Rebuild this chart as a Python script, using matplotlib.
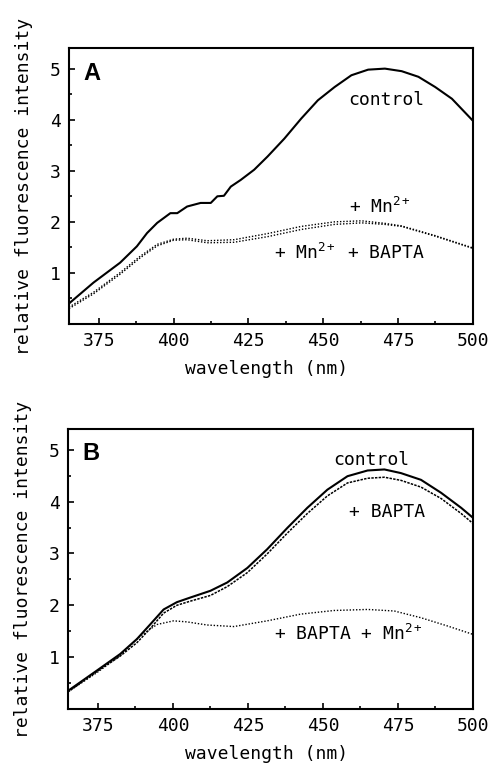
import matplotlib
import matplotlib.pyplot as plt

matplotlib.use('Agg')

plt.rcParams['font.family'] = ['DejaVu Sans Mono']
plt.rcParams['mathtext.fontset'] = 'custom'
plt.rcParams['mathtext.rm'] = 'DejaVu Sans Mono'
plt.rcParams['mathtext.it'] = 'DejaVu Sans Mono'
plt.rcParams['mathtext.bf'] = 'DejaVu Sans Mono:bold'
plt.rcParams['mathtext.default'] = 'rm'

# Panel A data
wl_a_ctrl = [365, 373.2, 382.1, 387.7, 391.1, 394.5, 398.9, 401.2, 404.5, 409, 412.4, 414.6,
             416.8, 419.1, 422.4, 426.9, 431.4, 437, 442.6, 448.2, 453.8, 459.4, 465, 470.6,
             476.2, 481.8, 487.4, 493, 500]
a_ctrl = [0.40, 0.81, 1.20, 1.52, 1.78, 1.98, 2.17, 2.17, 2.30, 2.37, 2.37, 2.50,
          2.51, 2.69, 2.82, 3.02, 3.28, 3.63, 4.02, 4.38, 4.64, 4.87, 4.98, 5.00,
          4.95, 4.84, 4.64, 4.41, 3.98]

wl_a_mn = [365, 373.2, 382, 388.9, 394.5, 400, 404.5, 411.2, 420.2, 431.4, 442.6, 453.8,
           462.8, 470.6, 476.2, 487.4, 500]
a_mn = [0.33, 0.62, 1.00, 1.33, 1.56, 1.66, 1.68, 1.63, 1.65, 1.77, 1.91, 2.00,
        2.02, 1.97, 1.92, 1.73, 1.49]
a_mn_bapta = [0.30, 0.59, 0.97, 1.30, 1.53, 1.64, 1.65, 1.59, 1.60, 1.71, 1.85, 1.95,
              1.98, 1.95, 1.91, 1.72, 1.48]

# Panel B data
wl_b = [365, 374.6, 382.4, 388, 392.4, 396.9, 401.3, 405.8, 412.5, 418.1, 424.8, 431.4,
        438.1, 444.8, 451.5, 458.2, 464.9, 470.5, 476, 482.7, 489.4, 496.1, 500]
b_ctrl = [0.35, 0.74, 1.06, 1.35, 1.63, 1.92, 2.06, 2.15, 2.28, 2.44, 2.72, 3.08,
          3.49, 3.88, 4.23, 4.49, 4.60, 4.62, 4.55, 4.42, 4.17, 3.88, 3.69]
b_bapta = [0.33, 0.72, 1.02, 1.28, 1.55, 1.85, 2.00, 2.08, 2.19, 2.36, 2.63, 2.99,
           3.39, 3.77, 4.11, 4.36, 4.45, 4.47, 4.41, 4.28, 4.06, 3.77, 3.58]

wl_b_mn = [365, 374.6, 382.4, 389.1, 394.7, 400.2, 404.7, 411.4, 420.3, 431.4, 442.6, 453.7,
           464.9, 473.8, 482.7, 491.6, 500]
b_bapta_mn = [0.33, 0.70, 1.03, 1.41, 1.63, 1.70, 1.68, 1.62, 1.59, 1.70, 1.83, 1.90,
              1.92, 1.89, 1.76, 1.60, 1.44]

fig = plt.figure(figsize=(4.89, 7.65), dpi=100)
ax1 = fig.add_axes([0.141, 0.5765, 0.826, 0.3605])
ax2 = fig.add_axes([0.139, 0.0732, 0.828, 0.3660])

dot = (0, (1, 1.3))
dense = (0, (1.6, 0.8))

ax1.plot(wl_a_ctrl, a_ctrl, color='black', lw=1.5)
ax1.plot(wl_a_mn, a_mn, color='black', lw=1.0, linestyle=dot)
ax1.plot(wl_a_mn, a_mn_bapta, color='black', lw=1.0, linestyle=dot)

ax2.plot(wl_b, b_ctrl, color='black', lw=1.5)
ax2.plot(wl_b, b_bapta, color='black', lw=1.1, linestyle=dense)
ax2.plot(wl_b_mn, b_bapta_mn, color='black', lw=1.0, linestyle=dot)

fs = 13
ax1.text(458.4, 4.38, 'control', fontsize=fs, va='center')
ax1.text(458.7, 2.29, '+ Mn$^{2+}$', fontsize=fs, va='center')
ax1.text(433.5, 1.39, '+ Mn$^{2+}$ + BAPTA', fontsize=fs, va='center')

ax2.text(453.3, 4.81, 'control', fontsize=fs, va='center')
ax2.text(458.6, 3.79, '+ BAPTA', fontsize=fs, va='center')
ax2.text(433.6, 1.44, '+ BAPTA + Mn$^{2+}$', fontsize=fs, va='center')

for ax, letter, ly in [(ax1, 'A', 0.949), (ax2, 'B', 0.954)]:
    ax.set_xlim(365, 500)
    ax.set_ylim(0, 5.4)
    ax.set_xticks([375, 400, 425, 450, 475, 500])
    ax.set_xticks([387.5, 412.5, 437.5, 462.5, 487.5], minor=True)
    ax.set_yticks([1, 2, 3, 4, 5])
    ax.set_yticks([0.5, 1.5, 2.5, 3.5, 4.5], minor=True)
    ax.tick_params(which='both', direction='in', width=1.2, labelsize=fs)
    ax.tick_params(which='major', length=4, pad=6)
    ax.tick_params(which='minor', length=2.5)
    for sp in ax.spines.values():
        sp.set_linewidth(1.5)
    ax.set_xlabel('wavelength (nm)', fontsize=fs)
    ax.set_ylabel('relative fluorescence intensity', fontsize=fs)
    ax.xaxis.set_label_coords(0.49, -0.13)
    ax.yaxis.set_label_coords(-0.089, 0.5)
    ax.text(0.035, ly, letter, transform=ax.transAxes, fontsize=17, fontweight='bold',
            family='Liberation Sans', ha='left', va='top')

fig.savefig('out.png', dpi=100)
